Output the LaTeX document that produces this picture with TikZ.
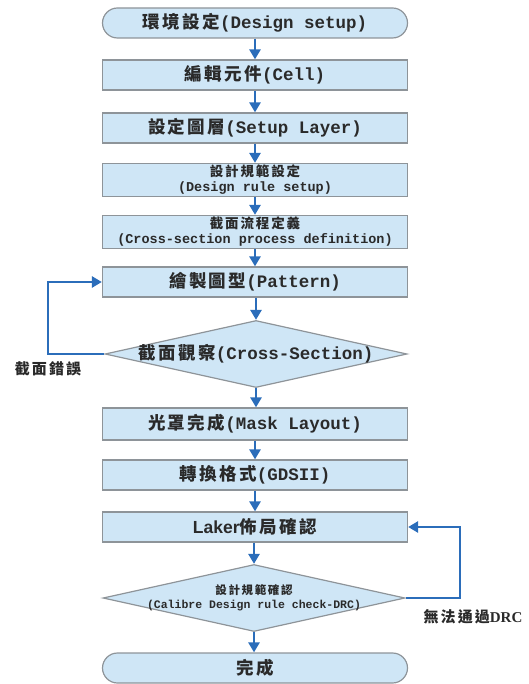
\documentclass[tikz,border=0pt]{standalone}
\usepackage{fontspec}
\setmainfont{Liberation Mono}
\newfontfamily\cjk[LetterSpace=14]{Noto Sans CJK TC}
\newfontfamily\lsans{Liberation Sans}
\newfontfamily\tms{Liberation Serif}
\usetikzlibrary{shapes.geometric,arrows.meta}
\definecolor{boxfill}{HTML}{CFE6F6}
\definecolor{boxline}{HTML}{8E9499}
\definecolor{arrowblue}{HTML}{2B6DBA}
\definecolor{txt}{HTML}{2A2A2A}
\newcommand\zh[1]{{\cjk #1}}
\tikzset{
  base/.style={draw=boxline, line width=1.2pt, fill=boxfill, text=txt, inner sep=0pt, align=center},
  procbox/.style={base, rectangle, minimum width=305pt, minimum height=30pt, font=\fontsize{17.5}{20}\selectfont\bfseries},
  tallbox/.style={base, rectangle, minimum width=305pt, minimum height=33pt, font=\fontsize{13.5}{15}\selectfont\bfseries},
  termbox/.style={base, rectangle, rounded corners=15pt, minimum width=305pt, minimum height=30pt, font=\fontsize{17.5}{20}\selectfont\bfseries},
  dia/.style={base, diamond, minimum width=302pt, minimum height=67pt},
  flow/.style={draw=arrowblue, line width=2.6pt, -{Triangle[length=10pt,width=11pt]}},
  lbl/.style={text=txt, inner sep=0pt, font=\fontsize{15}{18}\selectfont\bfseries}
}
\begin{document}
\begin{tikzpicture}[x=1pt,y=-1pt]
\useasboundingbox (0,0) rectangle (528,684);
\node[termbox] (s1) at (255,23) {\zh{環境設定}(Design setup)};
\node[procbox] (s2) at (255,75) {\zh{編輯元件}(Cell)};
\node[procbox] (s3) at (255,128) {\zh{設定圖層}(Setup Layer)};
\node[tallbox] (s4) at (255,180) {\zh{設計規範設定}\\(Design rule setup)};
\node[tallbox] (s5) at (255,232) {\zh{截面流程定義}\\(Cross-section process definition)};
\node[procbox] (s6) at (255,282) {\zh{繪製圖型}(Pattern)};
\node[dia] (d1) at (256,354) {};
\node[text=txt, inner sep=0pt, font=\fontsize{17.5}{20}\selectfont\bfseries] (d1t) at (256,354) {\zh{截面觀察}(Cross-Section)};
\node[procbox, minimum height=32pt] (s7) at (255,424) {\zh{光罩完成}(Mask Layout)};
\node[procbox] (s8) at (255,475) {\zh{轉換格式}(GDSII)};
\node[procbox] (s9) at (255,527) {{\lsans\bfseries Laker}\zh{佈局確認}};
\node[dia] (d2) at (254,598) {};
\node[text=txt, inner sep=0pt, align=center, font=\fontsize{11.5}{14}\selectfont\bfseries] (d2t) at (254,598) {\zh{設計規範確認}\\(Calibre Design rule check-DRC)};
\node[termbox] (s10) at (255,668) {\zh{完成}};
\draw[flow] (s1) -- (s2);
\draw[flow] (s2) -- (s3);
\draw[flow] (s3) -- (s4);
\draw[flow] (s4) -- (s5);
\draw[flow] (s5) -- (s6);
\draw[flow] (s6.south -| d1.north) -- (d1.north);
\draw[flow] (d1.south) -- (s7.north -| d1.south);
\draw[flow] (s7) -- (s8);
\draw[flow] (s8) -- (s9);
\draw[flow] (s9.south -| d2.north) -- (d2.north);
\draw[flow] (d2.south) -- (s10.north -| d2.south);
\coordinate (l1) at (48,354);
\coordinate (r1) at (460,598);
\draw[flow] (d1.west) -- (l1) |- (s6.west);
\draw[flow] (d2.east) -- (r1) |- (s9.east);
\node[lbl] (e1) at (48,369) {\zh{截面錯誤}};
\node[lbl] (e2) at (473,617) {\zh{無法通過}{\tms DRC}};
\end{tikzpicture}
\end{document}
